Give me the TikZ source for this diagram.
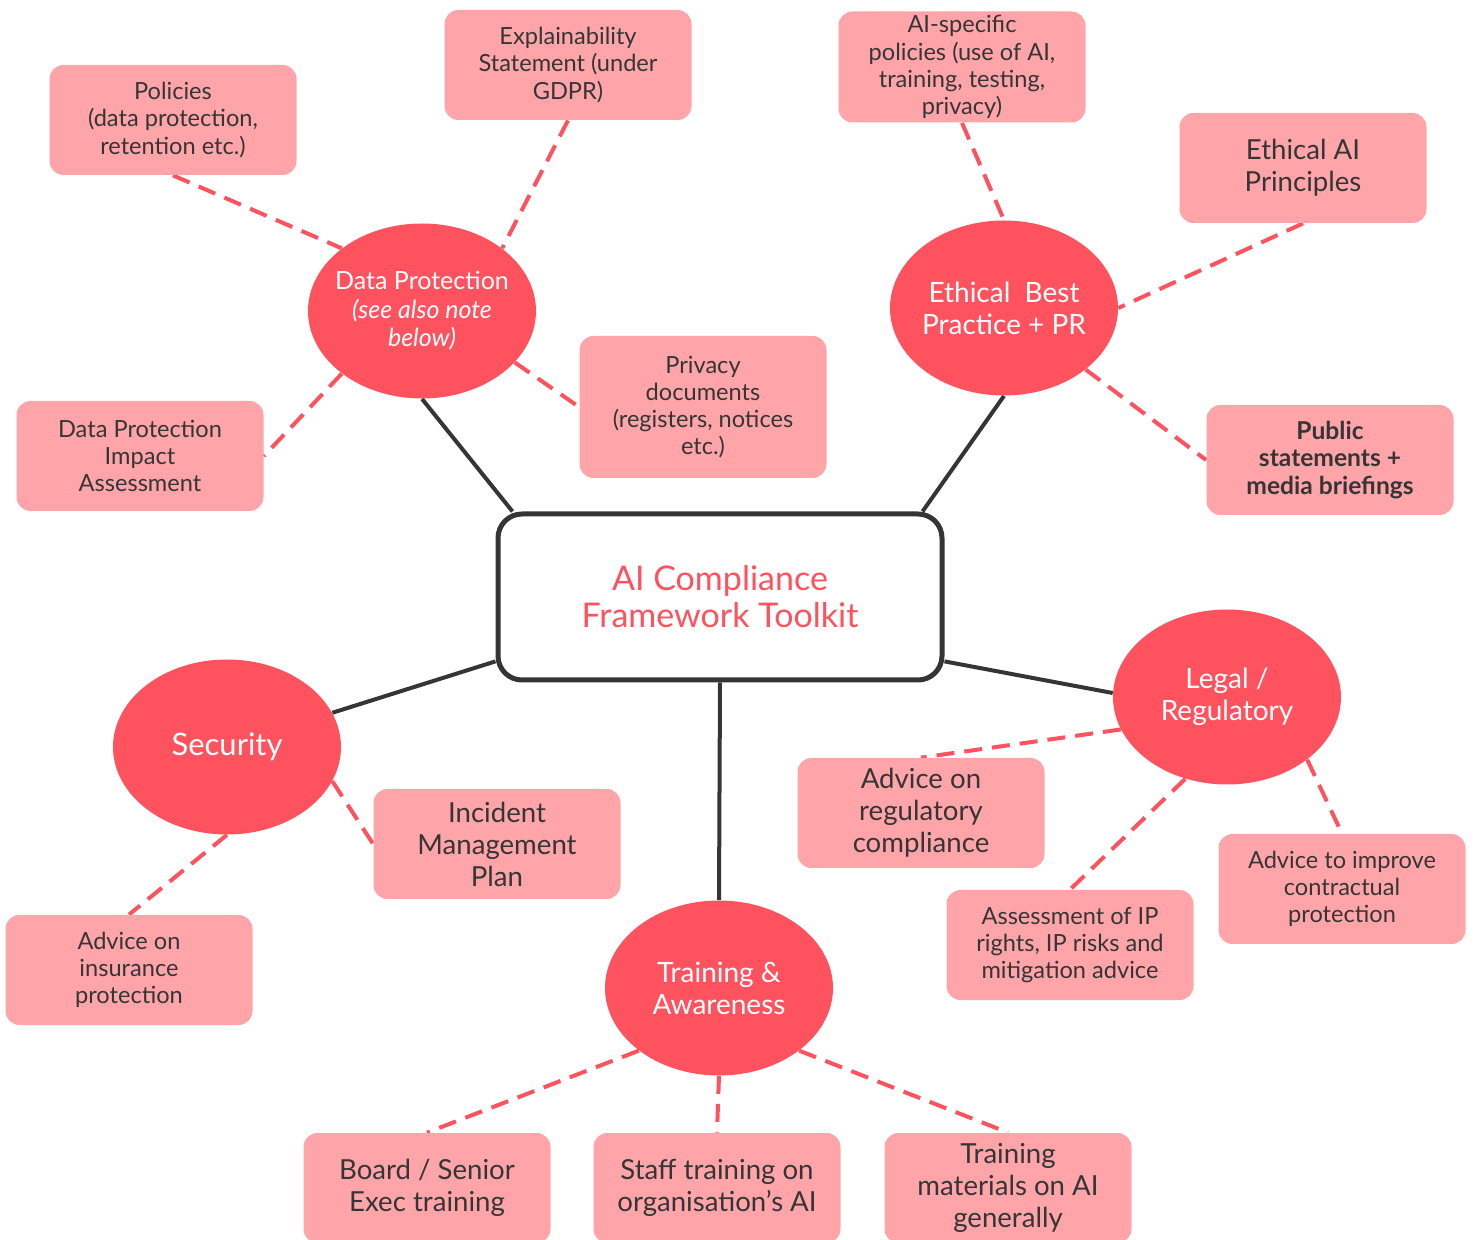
\documentclass[tikz,border=0pt]{standalone}
\usepackage{fontspec}
\setmainfont{Lato}
\usetikzlibrary{shapes.geometric,backgrounds}
\definecolor{hubred}{HTML}{FF525F}
\definecolor{leafpink}{HTML}{FFA5AA}
\definecolor{ink}{HTML}{353535}
\begin{document}
\begin{tikzpicture}[x=0.5pt,y=-0.5pt]
\tikzstyle{hub}=[ellipse,fill=hubred,text=white,minimum width=114pt,minimum height=87.5pt,inner sep=-8pt,align=center,font=\fontsize{14}{16}\selectfont]
\tikzstyle{leaf}=[rectangle,rounded corners=7pt,fill=leafpink,text=ink,minimum width=123.5pt,minimum height=55pt,inner sep=2pt,align=center,font=\fontsize{11.8}{13.6}\selectfont]
\tikzstyle{bigleaf}=[leaf,font=\fontsize{13.8}{16}\selectfont]
\tikzstyle{trunk}=[draw=ink,line width=2pt]
\tikzstyle{twig}=[draw=hubred,line width=2pt,dash pattern=on 9pt off 5pt]
\useasboundingbox (0,0) rectangle (1474,1240);
% centre
\node[rectangle,draw=ink,line width=2.5pt,rounded corners=12pt,fill=white,text=hubred,minimum width=222pt,minimum height=83pt,align=center,font=\fontsize{17}{18.5}\selectfont](core) at (720,597) {AI Compliance\\Framework Toolkit};
% hubs
\node[hub,font=\fontsize{12.5}{14.3}\selectfont](dp) at (422,311) {Data Protection\\\textit{(see also note}\\\textit{below)}};
\node[hub](eth) at (1004,308) {Ethical\ \ Best\\Practice + PR};
\node[hub](leg) at (1227,697) {Legal /\\Regulatory};
\node[hub,font=\fontsize{15.5}{17}\selectfont](sec) at (227,747) {Security};
\node[hub](trn) at (719,988) {Training \&\\Awareness};
% leaves
\node[leaf](pol) at (173,120) {Policies\\(data protection,\\retention etc.)};
\node[leaf](expl) at (568,65) {Explainability\\Statement (under\\GDPR)};
\node[leaf](dpia) at (140,456) {Data Protection\\Impact\\Assessment};
\node[leaf,minimum height=71pt](priv) at (703,407) {Privacy\\documents\\(registers, notices\\etc.)};
\node[leaf](aipol) at (962,67) {AI-specific\\policies (use of AI,\\training, testing,\\privacy)};
\node[bigleaf](eap) at (1303,168) {Ethical AI\\Principles};
\node[leaf,font=\bfseries\fontsize{12.3}{13.8}\selectfont](pub) at (1330,460) {Public\\statements +\\media briefings};
\node[bigleaf](inc) at (497,844) {Incident\\Management\\Plan};
\node[leaf](ins) at (129,970) {Advice on\\insurance\\protection};
\node[bigleaf](reg) at (921,813) {Advice on\\regulatory\\compliance};
\node[leaf](ip) at (1070,945) {Assessment of IP\\rights, IP risks and\\mitigation advice};
\node[leaf](con) at (1342,889) {Advice to improve\\contractual\\protection};
\node[bigleaf](brd) at (427,1188) {Board / Senior\\Exec training};
\node[bigleaf](stf) at (717,1188) {Staff training on\\organisation’s AI};
\node[bigleaf](mat) at (1008,1188) {Training\\materials on AI\\generally};
\begin{scope}[on background layer]
\draw[trunk] (dp.south) -- ([xshift=8.5pt]core.north west);
\draw[trunk] (eth.south) -- ([xshift=-11pt]core.north east);
\draw[trunk] (sec.18) -- (core.196);
\draw[trunk] (leg.178) -- (core.-16);
\draw[trunk] (trn.north) -- (core.south);
\draw[twig] (pol.south) -- (dp.142);
\draw[twig] (expl.south) -- (dp.38);
\draw[twig] (dp.218) -- (dpia.east);
\draw[twig] (dp.331) -- (priv.west);
\draw[twig] (aipol.south) -- (eth.north);
\draw[twig] (eap.south) -- (eth.east);
\draw[twig] (eth.323) -- (pub.west);
\draw[twig] (sec.342) -- (inc.west);
\draw[twig] (sec.south) -- (ins.north);
\draw[twig] (leg.197) -- (reg.north);
\draw[twig] (leg.243) -- (ip.north);
\draw[twig] (leg.322) -- (con.north);
\draw[twig] (trn.218) -- (brd.north);
\draw[twig] (trn.south) -- (stf.north);
\draw[twig] (trn.322) -- (mat.north);
\end{scope}
\end{tikzpicture}
\end{document}
